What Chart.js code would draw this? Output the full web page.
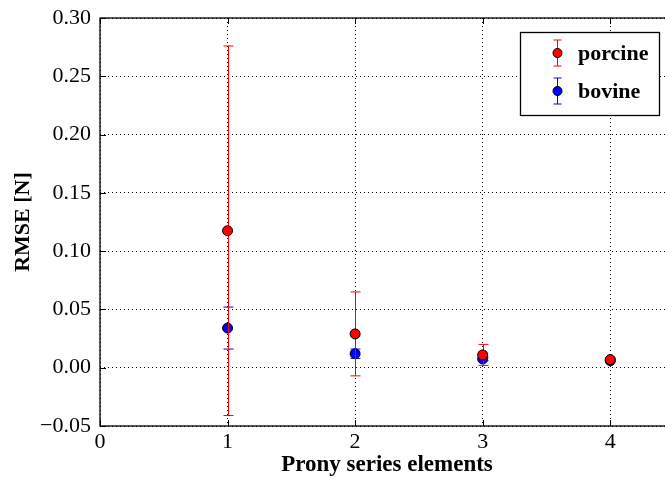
<!DOCTYPE html>
<html>
<head>
<meta charset="utf-8">
<script src="https://cdn.jsdelivr.net/npm/chart.js@4.4.1/dist/chart.umd.min.js"></script>
<style>
    html, body { margin: 0; padding: 0; background: #fff; overflow: hidden; }
    #wrap { width: 680px; height: 479px; }
</style>
</head>
<body>
<div id="wrap"><canvas id="grafico" width="680" height="479"></canvas></div>
<script>
// Datos
const elementos = [1, 2, 3, 4];
const porcineMedia = [0.1175, 0.029, 0.011, 0.007];
const porcineError = [0.1585, 0.036, 0.009, 0.0012];
const bovineMedia = [0.034, 0.012, 0.0075, 0.006];
const bovineError = [0.018, 0.004, 0.0015, 0.001];
const yTicks = [-0.05, 0, 0.05, 0.10, 0.15, 0.20, 0.25, 0.30];
const xTicks = [0, 1, 2, 3, 4];

const fuente = "'Liberation Serif', 'DejaVu Serif', serif";

const series = [
    { label: 'porcine', color: '#ff0000', media: porcineMedia, error: porcineError },
    { label: 'bovine', color: '#0000ff', media: bovineMedia, error: bovineError }
];

// Barras de error (debajo de los puntos)
const errorBars = {
    id: 'errorBars',
    beforeDatasetDraw(chart, args) {
        const s = series[args.index];
        const xs = chart.scales.x, ys = chart.scales.y;
        const ctx = chart.ctx;
        ctx.save();
        ctx.strokeStyle = s.color;
        ctx.lineWidth = 1;
        elementos.forEach((e, i) => {
            const px = Math.round(xs.getPixelForValue(e)) + 0.5;
            const top = ys.getPixelForValue(s.media[i] + s.error[i]);
            const bot = ys.getPixelForValue(s.media[i] - s.error[i]);
            ctx.beginPath();
            ctx.moveTo(px, top); ctx.lineTo(px, bot);
            ctx.moveTo(px - 5, top); ctx.lineTo(px + 5, top);
            ctx.moveTo(px - 5, bot); ctx.lineTo(px + 5, bot);
            ctx.stroke();
        });
        ctx.restore();
    }
};

// Marco, ticks hacia adentro y leyenda
const marco = {
    id: 'marco',
    afterDraw(chart) {
        const { ctx, chartArea: a } = chart;
        const xs = chart.scales.x, ys = chart.scales.y;
        ctx.save();
        ctx.strokeStyle = '#000';
        ctx.lineWidth = 1.3;
        ctx.strokeRect(a.left, a.top, a.right - a.left, a.bottom - a.top);
        ctx.lineWidth = 1;
        ctx.beginPath();
        xTicks.forEach(t => {
            const px = Math.round(xs.getPixelForValue(t)) + 0.5;
            ctx.moveTo(px, a.bottom); ctx.lineTo(px, a.bottom - 6);
            ctx.moveTo(px, a.top); ctx.lineTo(px, a.top + 6);
        });
        yTicks.forEach(t => {
            const py = Math.round(ys.getPixelForValue(t)) + 0.5;
            ctx.moveTo(a.left, py); ctx.lineTo(a.left + 6, py);
            ctx.moveTo(a.right, py); ctx.lineTo(a.right - 6, py);
        });
        ctx.stroke();

        // Leyenda
        const lx = 520, ly = 32, lw = 139, lh = 83;
        ctx.fillStyle = '#fff';
        ctx.fillRect(lx, ly, lw, lh);
        ctx.lineWidth = 1.3;
        ctx.strokeStyle = '#000';
        ctx.strokeRect(lx + 0.5, ly + 0.5, lw, lh);
        series.forEach((s, i) => {
            const cy = ly + 21 + i * 38;
            const cx = lx + 37;
            ctx.strokeStyle = s.color;
            ctx.lineWidth = 1;
            ctx.beginPath();
            ctx.moveTo(cx + 0.5, cy - 13); ctx.lineTo(cx + 0.5, cy + 13);
            ctx.moveTo(cx - 3.5, cy - 13); ctx.lineTo(cx + 4.5, cy - 13);
            ctx.moveTo(cx - 3.5, cy + 13); ctx.lineTo(cx + 4.5, cy + 13);
            ctx.stroke();
            ctx.beginPath();
            ctx.arc(cx + 0.5, cy, 4.5, 0, Math.PI * 2);
            ctx.fillStyle = s.color;
            ctx.fill();
            ctx.strokeStyle = '#000';
            ctx.stroke();
            ctx.fillStyle = '#000';
            ctx.font = 'bold 22px ' + fuente;
            ctx.textBaseline = 'middle';
            ctx.fillText(s.label, lx + 58, cy + 1);
        });
        ctx.restore();
    }
};

new Chart(document.getElementById('grafico'), {
    type: 'scatter',
    data: {
        datasets: series.map(s => ({
            label: s.label,
            data: elementos.map((e, i) => ({ x: e, y: s.media[i] })),
            backgroundColor: s.color,
            borderColor: '#000',
            borderWidth: 1,
            pointRadius: 5,
            pointHoverRadius: 5
        }))
    },
    options: {
        responsive: false,
        animation: false,
        layout: { padding: { top: 18, right: 6, left: 0, bottom: 0 } },
        plugins: {
            legend: { display: false },
            tooltip: { enabled: false }
        },
        scales: {
            x: {
                type: 'linear',
                min: 0,
                max: 4.5,
                afterBuildTicks: axis => { axis.ticks = xTicks.map(v => ({ value: v })); },
                afterFit: axis => { axis.height = 53; axis.paddingLeft = 0; axis.paddingRight = 0; },
                grid: { color: '#000', lineWidth: 1, drawTicks: false },
                border: { display: false, dash: [1, 3] },
                ticks: {
                    color: '#000',
                    padding: 3,
                    font: { family: fuente, size: 22 },
                    callback: v => String(v)
                },
                title: {
                    display: true,
                    text: 'Prony series elements',
                    color: '#000',
                    padding: { top: 6, bottom: 0 },
                    font: { family: fuente, size: 23, weight: 'bold' }
                }
            },
            y: {
                min: -0.05,
                max: 0.30,
                afterBuildTicks: axis => { axis.ticks = yTicks.map(v => ({ value: v })); },
                afterFit: axis => { axis.width = 100; axis.paddingTop = 0; axis.paddingBottom = 0; },
                grid: { color: '#000', lineWidth: 1, drawTicks: false },
                border: { display: false, dash: [1, 3] },
                ticks: {
                    color: '#000',
                    padding: 9,
                    font: { family: fuente, size: 22 },
                    callback: v => (v < 0 ? '\u2212' : '') + Math.abs(v).toFixed(2)
                },
                title: {
                    display: true,
                    text: 'RMSE [N]',
                    color: '#000',
                    padding: { top: 10, bottom: 0 },
                    font: { family: fuente, size: 22, weight: 'bold' }
                }
            }
        }
    },
    plugins: [errorBars, marco]
});
</script>
</body>
</html>
